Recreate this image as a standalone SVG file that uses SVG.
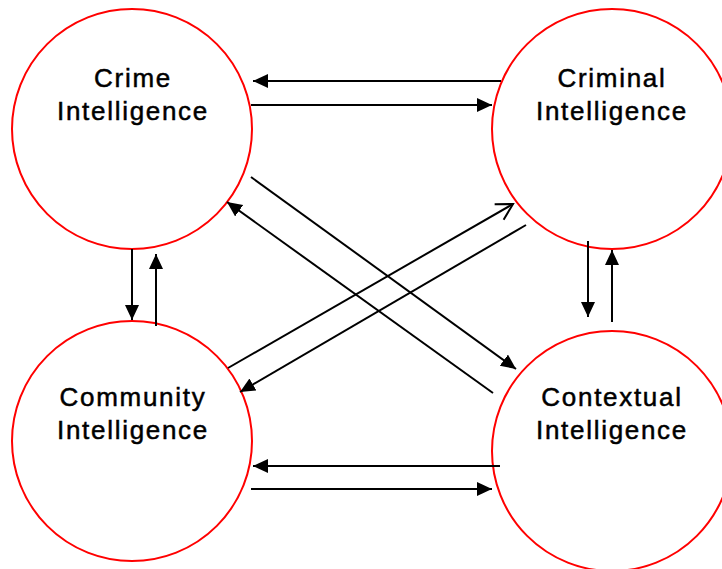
<svg xmlns="http://www.w3.org/2000/svg" width="722" height="569" viewBox="0 0 722 569">
<style>
.node circle{fill:#fff;stroke:#ff0000;stroke-width:2}
.node text{font-family:"Liberation Sans",Arial,sans-serif;font-size:26px;letter-spacing:1.7px;fill:#000;stroke:#000;stroke-width:0.5px;text-anchor:middle}
.conn line{stroke:#000;stroke-width:2}
.f{marker-end:url(#ah)}
.o{marker-end:url(#oh)}
</style>
<defs>
<marker id="ah" markerUnits="userSpaceOnUse" markerWidth="16" markerHeight="15" refX="15" refY="7" orient="auto" viewBox="0 0 16 15">
<path d="M0,0 L15,7 L0,14 z" fill="#000"/>
</marker>
<marker id="oh" markerUnits="userSpaceOnUse" markerWidth="20" markerHeight="22" refX="17" refY="10" orient="auto" viewBox="0 0 20 22">
<path d="M1,1 L17,10 L1,19" fill="none" stroke="#000" stroke-width="2"/>
</marker>
</defs>
<rect width="722" height="569" fill="#fff"/>
<g id="crime" class="node">
<circle cx="132" cy="129" r="120"/>
<text x="133" y="87">Crime</text>
<text x="133" y="120">Intelligence</text>
</g>
<g id="criminal" class="node">
<circle cx="612" cy="129" r="120"/>
<text x="612" y="87">Criminal</text>
<text x="612" y="120">Intelligence</text>
</g>
<g id="community" class="node">
<circle cx="132" cy="441" r="120"/>
<text x="133" y="406">Community</text>
<text x="133" y="439">Intelligence</text>
</g>
<g id="contextual" class="node">
<circle cx="612" cy="451" r="120"/>
<text x="612" y="406">Contextual</text>
<text x="612" y="439">Intelligence</text>
</g>
<g id="connectors" class="conn">
<line class="f" x1="501" y1="81" x2="253" y2="81"/>
<line class="f" x1="251" y1="105" x2="492" y2="105"/>
<line class="f" x1="132" y1="249" x2="132" y2="320"/>
<line class="f" x1="156" y1="326" x2="156" y2="254"/>
<line class="f" x1="588" y1="241" x2="588" y2="317"/>
<line class="f" x1="612" y1="322" x2="612" y2="250"/>
<line class="f" x1="500" y1="466" x2="253" y2="466"/>
<line class="f" x1="251" y1="489" x2="492" y2="489"/>
<line class="f" x1="251" y1="177" x2="516" y2="369"/>
<line class="f" x1="493" y1="393" x2="227" y2="202"/>
<line class="o" x1="228" y1="368" x2="513" y2="204"/>
<line class="f" x1="526" y1="225" x2="240" y2="392"/>
</g>
</svg>
